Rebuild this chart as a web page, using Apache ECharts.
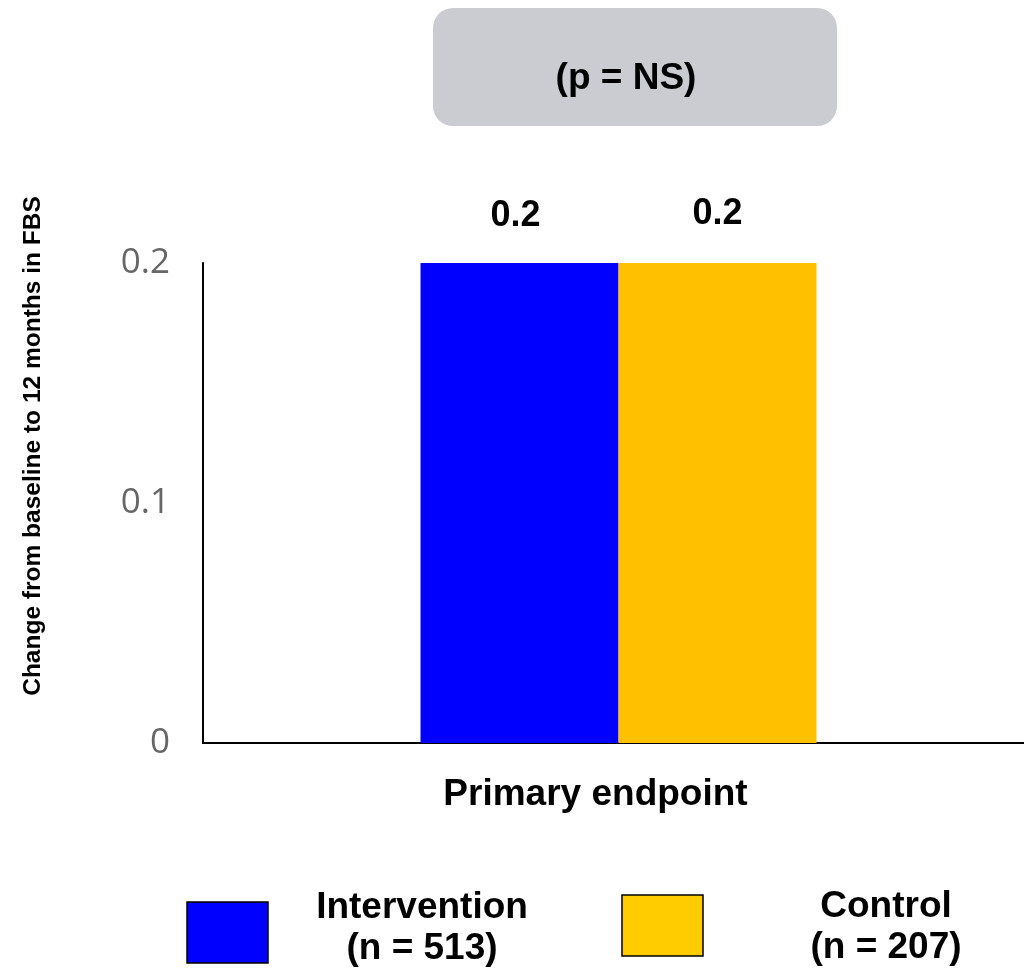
<!DOCTYPE html>
<html>
<head>
<meta charset="utf-8">
<script src="https://cdn.jsdelivr.net/npm/echarts@6/dist/echarts.min.js"></script>
<style>
html,body{margin:0;padding:0;background:#fff;}
#chart{width:1024px;height:972px;}
</style>
</head>
<body>
<div id="chart"></div>
<script>
const categories = ['Primary endpoint'];
const seriesNames = ['Intervention', 'Control'];
const sampleSizes = [513, 207];
const interventionValues = [0.2];
const controlValues = [0.2];
const yAxisTitle = 'Change from baseline to 12 months in FBS';
const pValueText = '(p = NS)';
const yMin = 0, yMax = 0.2, yStep = 0.1;

const barColors = ['#0000FF', '#FFC000'];
const legendColors = ['#0000FF', '#FFCC00'];
const boldFont = '"Liberation Sans", Arial, sans-serif';

const chart = echarts.init(document.getElementById('chart'), null, {renderer: 'canvas'});

const legendGraphics = [];
const legendBoxPos = [[187, 902], [622, 895]];
const legendTextPos = [[422, 928], [886, 927]];
seriesNames.forEach((name, i) => {
  legendGraphics.push({
    type: 'rect',
    shape: {x: legendBoxPos[i][0], y: legendBoxPos[i][1], width: 81, height: 61},
    style: {fill: legendColors[i], stroke: '#000', lineWidth: 1.5}
  });
  legendGraphics.push({
    type: 'text',
    x: legendTextPos[i][0], y: legendTextPos[i][1],
    style: {
      text: name + '\n(n = ' + sampleSizes[i] + ')',
      font: 'bold 37px ' + boldFont,
      lineHeight: 41,
      fill: '#000',
      align: 'center',
      verticalAlign: 'middle'
    }
  });
});

const option = {
  animation: false,
  backgroundColor: '#fff',
  grid: {left: 203, top: 263, height: 480, width: 831, containLabel: false, outerBoundsMode: 'none'},
  xAxis: {
    type: 'category',
    data: categories,
    axisLine: {show: true, lineStyle: {color: '#000', width: 2}},
    axisTick: {show: false},
    axisLabel: {
      margin: 33,
      fontSize: 37,
      fontWeight: 'bold',
      fontFamily: boldFont,
      color: '#000',
      padding: [0, 46, 0, 0]
    }
  },
  yAxis: {
    type: 'value',
    min: yMin, max: yMax, interval: yStep,
    axisLine: {show: true, lineStyle: {color: '#000', width: 2}},
    axisTick: {show: false},
    splitLine: {show: false},
    axisLabel: {
      margin: 33,
      fontSize: 35,
      fontFamily: '"Open Sans", sans-serif',
      color: '#666666',
      formatter: v => String(Math.round(v * 10) / 10)
    }
  },
  series: [
    {
      name: seriesNames[0], type: 'bar', data: interventionValues,
      barWidth: 198, barGap: '0%',
      itemStyle: {color: barColors[0]},
      label: {show: true, position: 'top', distance: 29, offset: [-4, 0], fontSize: 36, fontWeight: 'bold', fontFamily: boldFont, color: '#000'}
    },
    {
      name: seriesNames[1], type: 'bar', data: controlValues,
      barWidth: 198, barGap: '0%',
      itemStyle: {color: barColors[1]},
      label: {show: true, position: 'top', distance: 31, fontSize: 36, fontWeight: 'bold', fontFamily: boldFont, color: '#000'}
    }
  ],
  graphic: [
    {
      type: 'rect',
      shape: {x: 433, y: 8, width: 404, height: 118, r: 20},
      style: {fill: '#CBCCD1'}
    },
    {
      type: 'text', x: 626, y: 79,
      style: {text: pValueText, font: 'bold 37px ' + boldFont, fill: '#000', align: 'center', verticalAlign: 'middle'}
    },
    {
      type: 'text', x: 33, y: 446, rotation: Math.PI / 2,
      style: {text: yAxisTitle, font: 'bold 24.5px ' + boldFont, fill: '#000', align: 'center', verticalAlign: 'middle'}
    }
  ].concat(legendGraphics)
};
chart.setOption(option);
</script>
</body>
</html>
